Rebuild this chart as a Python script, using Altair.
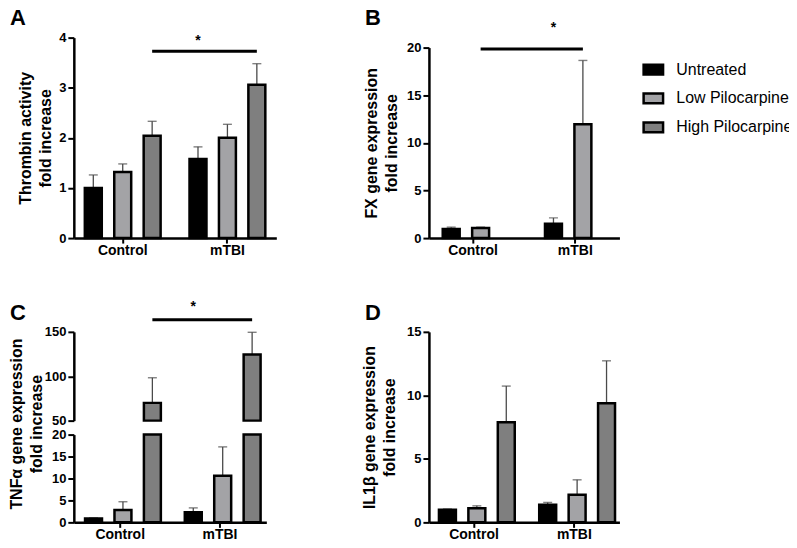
import altair as alt
import pandas as pd

FONT = "Liberation Sans"

groups = ["Control", "mTBI"]
treatments = ["Untreated", "Low Pilocarpine", "High Pilocarpine"]
fill_colors = ["#000000", "#a3a3a6", "#7f7f7f"]

# Panel A - Thrombin activity (fold increase); Control x3 then mTBI x3
a_mean = [1.00, 1.32, 2.04, 1.58, 2.00, 3.06]
a_sem = [0.26, 0.16, 0.29, 0.24, 0.27, 0.42]
# Panel B - FX gene expression (two treatments only)
b_treat = ["Untreated", "Low Pilocarpine"]
b_mean = [0.95, 1.05, 1.50, 11.95]
b_sem = [0.20, 0.10, 0.62, 6.70]
# Panel C - TNFa gene expression (broken axis: 0-20 and 50-150)
c_mean = [0.9, 2.8, 70.0, 2.3, 10.6, 124.5]
c_sem = [0.1, 1.9, 28.3, 1.0, 6.6, 25.0]
# Panel D - IL1b gene expression
d_mean = [1.00, 1.12, 7.88, 1.38, 2.17, 9.37]
d_sem = [0.05, 0.18, 2.85, 0.19, 1.18, 3.35]

# significance bracket height and star height
a_sig = [3.73, 3.86]
b_sig = [19.84, 21.65]
c_sig = [163.5, 173.6]

ERR = "#4a4a4a"


def table(mean, sem, treats):
    rows = []
    k = 0
    for g in groups:
        for t in treats:
            rows.append(dict(group=g, treat=t, mean=mean[k], top=mean[k] + sem[k]))
            k += 1
    return pd.DataFrame(rows)


def xenc(xpad, show_x=True):
    xs = alt.Scale(domain=groups, paddingInner=xpad[0], paddingOuter=xpad[1])
    xaxis = alt.Axis(title=None, labelAngle=0) if show_x else None
    return alt.X("group:N", scale=xs, axis=xaxis)


def xoenc(treats, opad):
    return alt.XOffset("treat:N", scale=alt.Scale(domain=treats, paddingInner=opad, paddingOuter=0))


def fillenc(legend=None):
    return alt.Fill("treat:N", scale=alt.Scale(domain=treatments, range=fill_colors), legend=legend)


def sig_layers(x, xo, ydef, sig, sig_treat):
    sdf = pd.DataFrame({"group": groups, "treat": [sig_treat, sig_treat], "y": [sig[0], sig[0]]})
    line = alt.Chart(sdf).mark_line(color="black", strokeWidth=3).encode(
        x=x, xOffset=xo, y=ydef("y"))
    stdf = pd.DataFrame({"group": ["mTBI"], "treat": ["Untreated"], "y": [sig[1]]})
    star = alt.Chart(stdf).mark_text(text="*", font=FONT, fontSize=14, fontWeight="bold",
                                     baseline="alphabetic", color="black").encode(
        x=x, xOffset=xo, y=ydef("y"))
    return [line, star]


def letter_layer(letter, letter_y):
    ldf = pd.DataFrame({"letter": [letter]})
    return alt.Chart(ldf).mark_text(font=FONT, fontSize=22, fontWeight="bold", align="left",
                                    baseline="alphabetic", color="black").encode(
        text="letter:N", x=alt.value(-64), y=alt.value(letter_y))


def panel(df, treats, width, height, ydom, yrange, yticks, xpad, opad, title, title_pad,
          legend=None, sig=None, sig_treat=None, letter=None, letter_y=-13):
    x = xenc(xpad)
    xo = xoenc(treats, opad)
    scale = alt.Scale(domain=ydom, range=yrange, nice=False)
    axis = alt.Axis(values=yticks, title=title, titlePadding=title_pad, format="d")
    y = alt.Y("mean:Q", scale=scale, axis=axis)

    def ydef(f):
        return alt.Y(f + ":Q", scale=scale, axis=axis)

    base = alt.Chart(df)
    err = base.mark_rule(color=ERR, strokeWidth=1.3).encode(
        x=x, xOffset=xo, y=ydef("mean"), y2="top:Q")
    cap = base.mark_tick(color=ERR, orient="horizontal", size=9, thickness=1.4).encode(
        x=x, xOffset=xo, y=ydef("top"))
    bars = base.mark_bar(stroke="black", strokeWidth=2.5).encode(
        x=x, xOffset=xo, y=y, y2=alt.datum(0), fill=fillenc(legend))
    layers = [err, cap, bars]
    if sig is not None:
        layers += sig_layers(x, xo, ydef, sig, sig_treat)
    if letter is not None:
        layers.append(letter_layer(letter, letter_y))
    return alt.layer(*layers).properties(width=width, height=height)


legend_b = alt.Legend(orient="none", legendX=214, legendY=21, title=None,
                      symbolType="M-1,-0.5H1V0.5H-1Z", symbolSize=380,
                      symbolStrokeColor="black", symbolStrokeWidth=2.5, symbolOpacity=1,
                      labelFont=FONT, labelFontSize=16, labelColor="black",
                      labelOffset=12, rowPadding=8, padding=0)

A = panel(table(a_mean, a_sem, treatments), treatments, 203, 201, [0, 4], [201, 0],
          [0, 1, 2, 3, 4], (0.276, 0.105), 0.424, ["Thrombin activity", "fold increase"], 5,
          sig=a_sig, sig_treat="High Pilocarpine", letter="A")

B = panel(table(b_mean, b_sem, b_treat), b_treat, 191, 201, [0, 20], [201, 10],
          [0, 5, 10, 15, 20], (0.407, 0.135), 0.387, ["FX gene expression", "fold increase"], 7,
          legend=legend_b, sig=b_sig, sig_treat="Low Pilocarpine", letter="B")

D = panel(table(d_mean, d_sem, treatments), treatments, 191, 191, [0, 15], [191, 0],
          [0, 5, 10, 15], (0.30, 0.10), 0.4545, ["IL1\u03b2 gene expression", "fold increase"], 9,
          letter="D", letter_y=-12)

# Panel C: one view, two independent y scales stacked (broken axis)
c_df = table(c_mean, c_sem, treatments)
cx = xenc((0.295, 0.1125))
cxo = xoenc(treatments, 0.459)
up_scale = alt.Scale(domain=[50, 150], range=[89, 0], nice=False, zero=False)
up_axis = alt.Axis(values=[50, 100, 150], title=None, orient="left", format="d")
low_scale = alt.Scale(domain=[0, 20], range=[191, 103], nice=False)
low_axis = alt.Axis(values=[0, 5, 10, 15, 20], orient="left", format="d",
                    title=["TNF\u03b1 gene expression", "fold increase"],
                    titlePadding=7, titleY=92)


def yup(f):
    return alt.Y(f + ":Q", scale=up_scale, axis=up_axis)


def ylow(f):
    return alt.Y(f + ":Q", scale=low_scale, axis=low_axis)


c_base = alt.Chart(c_df)
up_err = c_base.transform_filter("datum.mean > 50").mark_rule(color=ERR, strokeWidth=1.3).encode(
    x=cx, xOffset=cxo, y=yup("mean"), y2="top:Q")
up_cap = c_base.transform_filter("datum.mean > 50").mark_tick(
    color=ERR, orient="horizontal", size=9, thickness=1.4).encode(x=cx, xOffset=cxo, y=yup("top"))
up_bars = c_base.transform_filter("datum.mean > 50").mark_bar(stroke="black", strokeWidth=2.5).encode(
    x=cx, xOffset=cxo, y=yup("mean"), y2=alt.datum(50), fill=fillenc())
upper = alt.layer(up_err, up_cap, up_bars, *sig_layers(cx, cxo, yup, c_sig, "High Pilocarpine"),
                  letter_layer("C", -12))

low_err = c_base.transform_filter("datum.top <= 20").mark_rule(color=ERR, strokeWidth=1.3).encode(
    x=cx, xOffset=cxo, y=ylow("mean"), y2="top:Q")
low_cap = c_base.transform_filter("datum.top <= 20").mark_tick(
    color=ERR, orient="horizontal", size=9, thickness=1.4).encode(x=cx, xOffset=cxo, y=ylow("top"))
low_bars = c_base.transform_calculate(shown="min(datum.mean, 20)").mark_bar(
    stroke="black", strokeWidth=2.5).encode(
    x=cx, xOffset=cxo, y=ylow("shown"), y2=alt.datum(0), fill=fillenc())
lower = alt.layer(low_err, low_cap, low_bars)

C = alt.layer(upper, lower).resolve_scale(y="independent").properties(width=193, height=191)

chart = alt.concat(A, B, C, D, columns=2, spacing={"row": 94, "column": 153},
                   bounds="flush").resolve_scale(fill="independent").properties(
    padding={"left": 0, "top": -2, "right": -4, "bottom": 0}
).configure(font=FONT).configure_view(stroke=None).configure_axis(
    domainColor="black", domainWidth=2.5, tickColor="black", tickWidth=2, tickSize=6,
    labelFont=FONT, labelFontWeight="bold", labelFontSize=13, labelColor="black",
    labelPadding=2, titleFont=FONT, titleFontWeight="bold", titleFontSize=16,
    titleColor="black", titleLineHeight=20, grid=False
).configure_axisX(labelFontSize=14, tickSize=5, labelPadding=11, labelBaseline="alphabetic")

chart.save("out.html", embed_options={"renderer": "svg", "actions": False})
